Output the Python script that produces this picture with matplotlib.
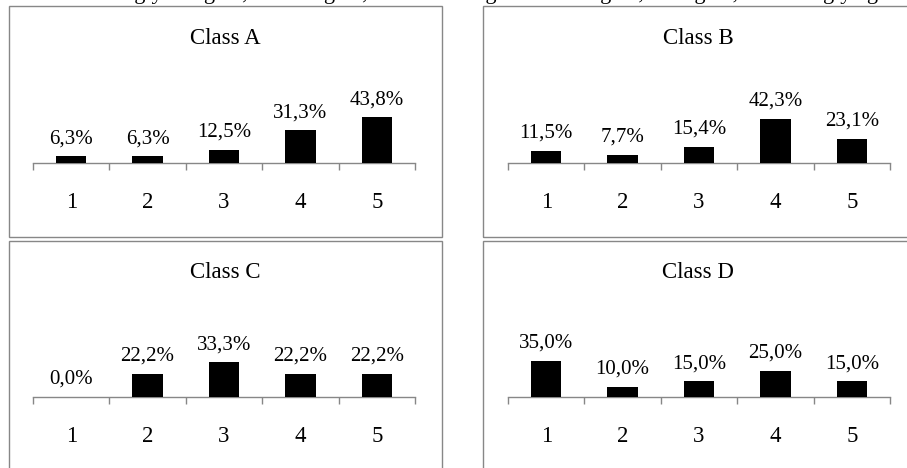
import matplotlib
matplotlib.use("Agg")
import matplotlib.pyplot as plt
from matplotlib.patches import Rectangle

plt.rcParams['font.family'] = ['Liberation Serif', 'DejaVu Serif']

categories = ["1", "2", "3", "4", "5"]
class_names = ["Class A", "Class B", "Class C", "Class D"]
class_a = [6.3, 6.3, 12.5, 31.3, 43.8]
class_b = [11.5, 7.7, 15.4, 42.3, 23.1]
class_c = [0.0, 22.2, 33.3, 22.2, 22.2]
class_d = [35.0, 10.0, 15.0, 25.0, 15.0]
top_caption = "1 = strongly disagree, 2 = disagree, 3 = neither agree nor disagree, 4 = agree, 5 = strongly agree"

W, H = 907, 468
fig = plt.figure(figsize=(W / 100, H / 100), dpi=100)

def fx(x):
    return x / W

def fy(y):
    return 1 - y / H

GRAY = '#878787'

# panel frames (pixel coords: left, top, right, bottom)
frames = [(9, 6, 442, 237), (483, 6, 930, 237), (9, 241, 442, 490), (483, 241, 930, 490)]
for (l, t, r, b) in frames:
    fig.add_artist(Rectangle((fx(l), fy(b)), fx(r) - fx(l), fy(t) - fy(b),
                             transform=fig.transFigure, fill=False,
                             edgecolor=GRAY, linewidth=1.0))

# partially cropped caption at the top
fig.text(fx(480), fy(-1.5), top_caption, ha='center', va='baseline', fontsize=16, color='black')

# axes geometry: (left, right, baseline y, title center x, title y)
geoms = [(33, 415, 163, 225, 38), (508, 890, 163, 698, 38),
         (33, 415, 397, 225, 273), (508, 890, 397, 698, 273)]
datas = [class_a, class_b, class_c, class_d]
PX_PER_PCT = 1.04
YMAX = 50

for name, vals, (l, r, base, tx, ty) in zip(class_names, datas, geoms):
    h = YMAX * PX_PER_PCT
    ax = fig.add_axes([fx(l), fy(base), fx(r) - fx(l), h / H])
    x = list(range(len(categories)))
    ax.bar(x, vals, width=0.4, color='black', zorder=3)
    ax.set_xlim(-0.5, 4.5)
    ax.set_ylim(0, YMAX)
    for sp in ['top', 'left', 'right']:
        ax.spines[sp].set_visible(False)
    ax.spines['bottom'].set_color(GRAY)
    ax.spines['bottom'].set_linewidth(1.0)
    ax.set_yticks([])
    ax.set_xticks(x)
    ax.set_xticklabels(categories, fontsize=16.5)
    ax.set_xticks([i - 0.5 for i in range(6)], minor=True)
    ax.tick_params(axis='x', which='major', length=0, pad=21)
    ax.tick_params(axis='x', which='minor', length=5, color=GRAY, width=1.0, direction='out')
    ax.patch.set_visible(False)
    for i, v in enumerate(vals):
        ax.annotate(f"{v:.1f}%".replace('.', ','), (i, v), xytext=(0, 9.5),
                    textcoords='offset points', ha='center', va='baseline', fontsize=15)
    fig.text(fx(tx), fy(ty), name, ha='center', va='center', fontsize=16.5)

fig.savefig("out.png", dpi=100)
